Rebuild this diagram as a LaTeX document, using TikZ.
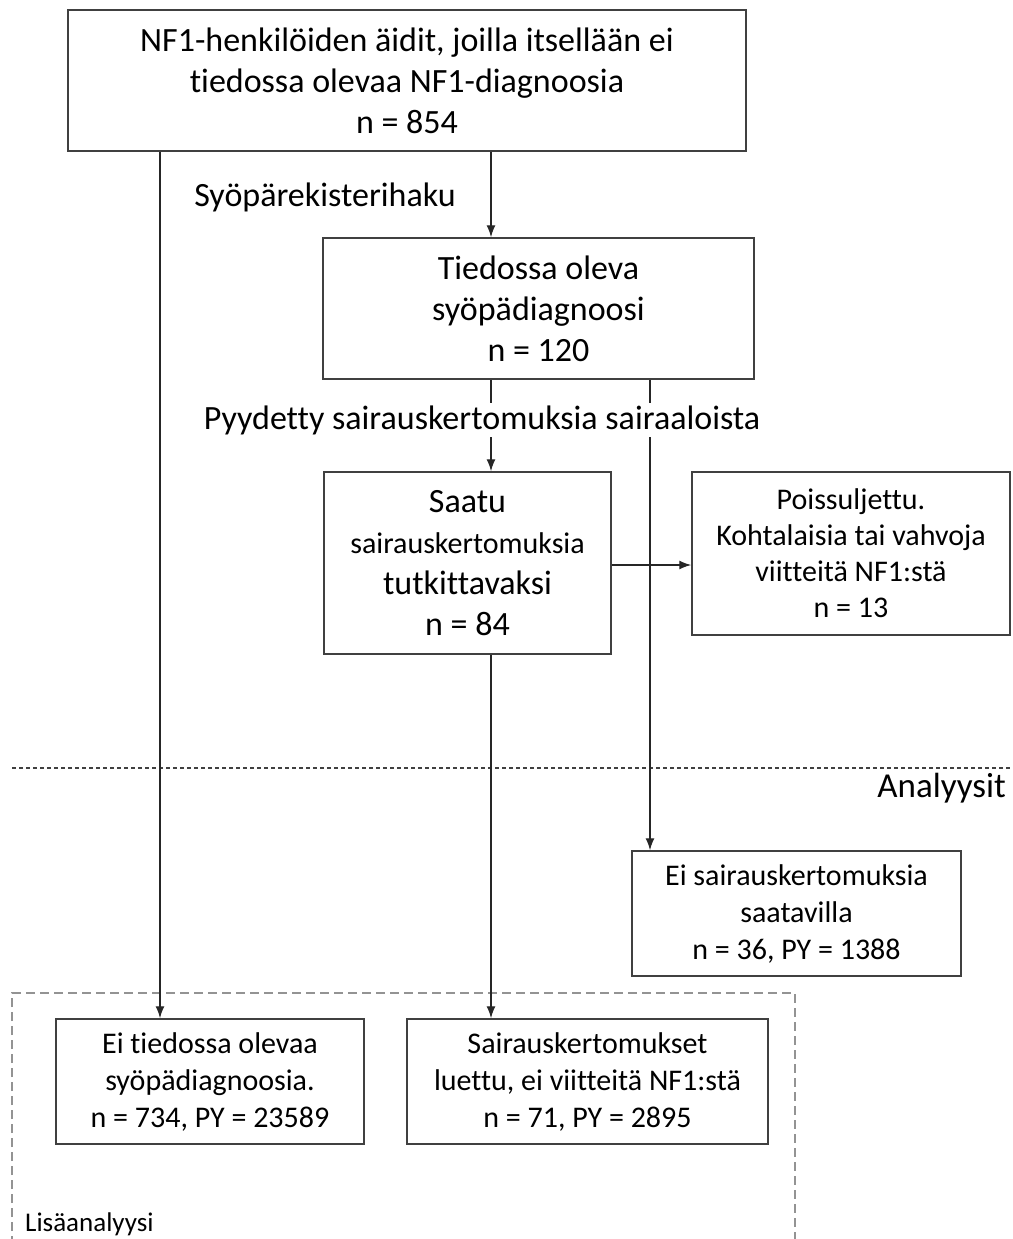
\documentclass[tikz,border=0pt]{standalone}
\usepackage{fontspec}
\setmainfont[RawFeature={-liga;-clig;-calt;-dlig}]{Carlito}
\usetikzlibrary{arrows.meta}
\begin{document}
\begin{tikzpicture}[x=1pt,y=-1pt,
  box/.style={draw=black!75,line width=1.5pt,align=center,inner sep=0pt,fill=white},
  big/.style={font=\fontsize{34}{41}\selectfont},
  small/.style={font=\fontsize{30}{37}\selectfont},
  arr/.style={line width=1.4pt,draw=black!85,-{Latex[length=12pt,width=9pt]}},
  lbl/.style={inner sep=0pt,fill=white}]
\useasboundingbox (0,0) rectangle (1012,1239);
% dashed further-analysis frame
\draw[gray!85,line width=1.5pt,dash pattern=on 9pt off 5pt] (12,1245) -- (12,993) -- (795,993) -- (795,1245);
\node[anchor=base west,inner sep=0pt,font=\fontsize{27}{32}\selectfont] (lisa) at (25,1231) {Lisäanalyysi};
% dotted separator
\draw[black!75,line width=1.5pt,dash pattern=on 4pt off 3pt] (12,768) -- (1010,768);
\node[anchor=east,inner sep=0pt,font=\fontsize{35}{42}\selectfont] (anal) at (1006,788) {Analyysit};
% boxes
\node[box,big,minimum width=678pt,minimum height=141pt] (b1) at (407,80.5)
  {NF1-henkilöiden äidit, joilla itsellään ei\\ tiedossa olevaa NF1-diagnoosia\\ n = 854};
\node[box,big,minimum width=431pt,minimum height=141pt] (b2) at (538.5,308.5)
  {Tiedossa oleva\\ syöpädiagnoosi\\ n = 120};
\node[box,big,minimum width=287pt,minimum height=182pt] (b3) at (467.5,563)
  {Saatu\\ {\fontsize{30}{41}\selectfont sairauskertomuksia}\\ tutkittavaksi\\ n = 84};
\node[box,font=\fontsize{30}{36}\selectfont,minimum width=318pt,minimum height=163pt] (b4) at (851,553.5)
  {Poissuljettu.\\ Kohtalaisia tai vahvoja\\ viitteitä NF1:stä\\ n = 13};
\node[box,small,minimum width=329pt,minimum height=125pt] (b5) at (796.5,913.5)
  {Ei sairauskertomuksia\\ saatavilla\\ n = 36, PY = 1388};
\node[box,small,minimum width=308pt,minimum height=125pt] (b6) at (210,1081.5)
  {Ei tiedossa olevaa\\ syöpädiagnoosia.\\ n = 734, PY = 23589};
\node[box,small,minimum width=361pt,minimum height=125pt] (b7) at (587.5,1081.5)
  {Sairauskertomukset\\ luettu, ei viitteitä NF1:stä\\ n = 71, PY = 2895};
% x positions of connectors
\coordinate (xL) at (160,0);
\coordinate (xM) at (491,0);
\coordinate (xR) at (650,0);
\coordinate (yH) at (0,565);
% connectors
\draw[arr] (b1.south -| xL) -- (b6.north -| xL);
\draw[arr] (b1.south -| xM) -- (b2.north -| xM);
\draw[arr] (b2.south -| xM) -- (b3.north -| xM);
\draw[arr] (b2.south -| xR) -- (b5.north -| xR);
\draw[arr] (b3.south -| xM) -- (b7.north -| xM);
\draw[arr] (b3.east |- yH) -- (b4.west |- yH);
% labels
\node[lbl,big] (l1) at (325,197) {Syöpärekisterihaku};
\node[lbl,big,inner ysep=2pt] (l2) at (482,420) {Pyydetty sairauskertomuksia sairaaloista};
\end{tikzpicture}
\end{document}
